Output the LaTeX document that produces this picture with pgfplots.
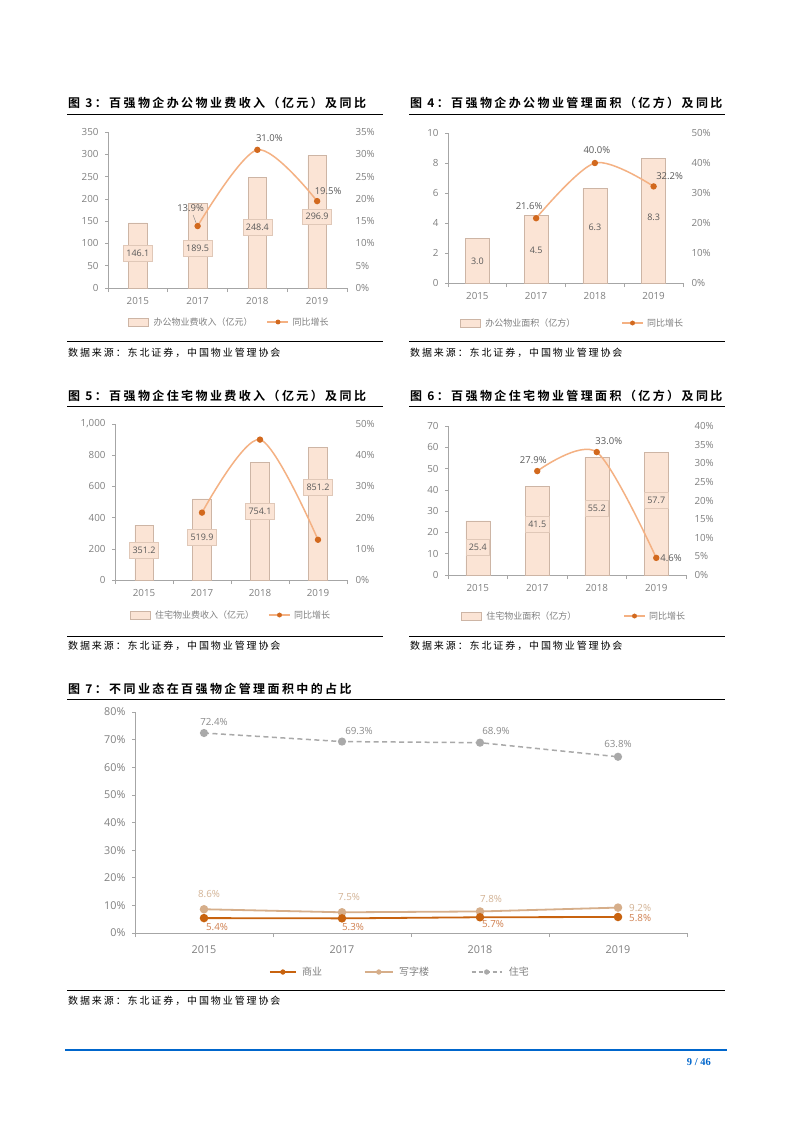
\documentclass[border=0pt]{standalone}
\usepackage{fontspec}
\usepackage{pgfplots}
\pgfplotsset{compat=1.18}
\setmainfont{Open Sans}
\newfontfamily\cjk{Noto Sans CJK SC}
\newfontfamily\titlefont[LetterSpace=20]{Noto Sans CJK SC Bold}
\newfontfamily\srcfont[LetterSpace=19]{Noto Sans CJK SC}
\newfontfamily\pagefont{Liberation Serif}

\definecolor{barfill}{HTML}{FBE4D5}
\definecolor{barline}{HTML}{CDB5A5}
\definecolor{boxline}{HTML}{E0C8B8}
\definecolor{linecol}{HTML}{F4B183}
\definecolor{markcol}{HTML}{D2691E}
\definecolor{tickgray}{HTML}{808080}
\definecolor{lblgray}{HTML}{595959}
\definecolor{axgray}{HTML}{A6A6A6}
\definecolor{shang}{HTML}{C8630F}
\definecolor{xiezi}{HTML}{D6AE8A}
\definecolor{zhuzhai}{HTML}{A9A9A9}
\definecolor{shanglbl}{HTML}{D08050}
\definecolor{xiezilbl}{HTML}{D3B395}
\definecolor{zhulbl}{HTML}{8C8C8C}
\definecolor{pageblue}{HTML}{0066CC}

\pgfplotsset{
  leftax/.style={
    scale only axis, anchor=south west, clip=false,
    xmin=-0.5, xmax=3.5, ymin=0,
    xtick={0,1,2,3}, xticklabels={2015,2017,2018,2019},
    minor xtick={-0.5,0.5,1.5,2.5,3.5},
    axis x line*=bottom, axis y line*=left,
    axis line style={draw=axgray, line width=0.6pt},
    tick align=outside, major tick length=3pt, minor tick length=4pt,
    major x tick style={draw=none},
    minor x tick style={draw=axgray, line width=0.6pt},
    ytick style={draw=axgray, line width=0.6pt},
    tick label style={font=\fontsize{9.8}{11}\selectfont, text=tickgray},
    yticklabel style={xshift=-3pt},
    xticklabel style={yshift=-2.5pt},
    /pgf/number format/assume math mode=true,
  },
  rightax/.style={
    scale only axis, anchor=south west, clip=false,
    xmin=-0.5, xmax=3.5, ymin=0,
    hide x axis, axis y line*=right,
    y axis line style={draw=none}, ytick style={draw=none},
    major tick length=3pt,
    yticklabel={\pgfmathprintnumber{\tick}\%},
    yticklabel style={font=\fontsize{9.8}{11}\selectfont, text=tickgray, xshift=5pt},
    /pgf/number format/assume math mode=true,
    legend columns=2,
    legend style={draw=none, fill=none, font=\cjk\fontsize{9}{10}\selectfont,
      text=tickgray, at={(0.5,0)}, anchor=center},
  },
  barleg/.style={legend image code/.code={
    \draw[fill=barfill, draw=barline, line width=0.5pt] (0pt,-4pt) rectangle (20pt,4pt);
    \path (23pt,0pt);}},
  lineleg/.style={legend image code/.code={
    \draw[linecol, line width=1.5pt] (0pt,0pt) -- (21pt,0pt);
    \fill[markcol] (10.5pt,0pt) circle (2.2pt);
    \path (23pt,0pt);}},
  barlbl/.style={draw=none, nodes near coords, point meta=explicit symbolic,
    every node near coord/.append style={anchor=center, fill=barfill, draw=boxline,
      inner xsep=3pt, inner ysep=4.5pt, font=\fontsize{9}{10}\selectfont, text=lblgray}},
  yoy/.style={smooth, linecol, line width=1.5pt, mark=*, mark size=2.4pt,
    mark options={fill=markcol, draw=markcol}, forget plot},
}
\tikzset{
  pct/.style={font=\fontsize{9.5}{11}\selectfont, text=lblgray, inner sep=0pt},
  lbl7/.style={font=\fontsize{9.8}{11}\selectfont, inner sep=0pt},
}

\begin{document}
\begin{tikzpicture}
\fill[white] (0pt,0pt) rectangle (793pt,-1122pt);

% ---------- titles, rules, sources
\node[anchor=west, inner sep=0pt, font=\titlefont\fontsize{12}{14}\selectfont] at (68pt,-103pt) {图 3：百强物企办公物业费收入（亿元）及同比};
\node[anchor=west, inner sep=0pt, font=\titlefont\fontsize{12}{14}\selectfont] at (410pt,-103pt) {图 4：百强物企办公物业管理面积（亿方）及同比};
\node[anchor=west, inner sep=0pt, font=\titlefont\fontsize{12}{14}\selectfont] at (68pt,-396pt) {图 5：百强物企住宅物业费收入（亿元）及同比};
\node[anchor=west, inner sep=0pt, font=\titlefont\fontsize{12}{14}\selectfont] at (410pt,-396pt) {图 6：百强物企住宅物业管理面积（亿方）及同比};
\node[anchor=west, inner sep=0pt, font=\titlefont\fontsize{12}{14}\selectfont] at (68pt,-689pt) {图 7：不同业态在百强物企管理面积中的占比};

\draw[line width=0.8pt] (67pt,-114pt) -- (383pt,-114pt);
\draw[line width=0.8pt] (409pt,-114pt) -- (725pt,-114pt);
\draw[line width=0.8pt] (67pt,-341pt) -- (383pt,-341pt);
\draw[line width=0.8pt] (409pt,-341pt) -- (725pt,-341pt);
\draw[line width=0.8pt] (67pt,-406pt) -- (383pt,-406pt);
\draw[line width=0.8pt] (409pt,-406pt) -- (725pt,-406pt);
\draw[line width=0.8pt] (67pt,-636pt) -- (383pt,-636pt);
\draw[line width=0.8pt] (409pt,-636pt) -- (725pt,-636pt);
\draw[line width=0.8pt] (67pt,-699pt) -- (725pt,-699pt);
\draw[line width=0.8pt] (67pt,-990pt) -- (725pt,-990pt);

\foreach \sx/\sy in {68/353, 410/353, 68/646, 410/646, 68/1001}
  \node[anchor=west, inner sep=0pt, font=\srcfont\fontsize{10}{12}\selectfont] at (\sx pt,-\sy pt) {数据来源：东北证券，中国物业管理协会};

\draw[pageblue, line width=1.2pt] (65pt,-1050pt) -- (727pt,-1050pt);
\node[anchor=east, inner sep=0pt, font=\pagefont\bfseries\fontsize{10.5}{12}\selectfont, text=pageblue] at (711pt,-1062pt) {9 / 46};

% ---------- chart 3
\begin{axis}[leftax, at={(108pt,-288pt)}, width=239pt, height=156pt,
  ymax=350, ytick={0,50,...,350}]
\addplot[ybar, bar width=18.5pt, fill=barfill, draw=barline, line width=0.5pt]
  coordinates {(0,146.1) (1,189.5) (2,248.4) (3,296.9)};
\addplot[barlbl] coordinates {(0,78)[146.1] (1,90)[189.5] (2,137)[248.4] (3,160)[296.9]};
\end{axis}
\begin{axis}[rightax, at={(108pt,-288pt)}, width=239pt, height=156pt,
  ymax=35, ytick={0,5,...,35},
  legend style={yshift=-34pt, xshift=2pt, /tikz/every even column/.append style={column sep=12pt}}]
\addlegendimage{barleg}
\addlegendentry{办公物业费收入（亿元）}
\addlegendimage{lineleg}
\addlegendentry{同比增长}
\addplot[yoy] coordinates {(1,13.9) (2,31.0) (3,19.5)};
\node[pct, xshift=-7pt, yshift=18pt] at (axis cs:1,13.9) {13.9\%};
\draw[tickgray, line width=0.4pt] (axis cs:1,13.9) ++(-1.5pt,3pt) -- ++(-3pt,8pt);
\node[pct, xshift=12pt, yshift=12pt] at (axis cs:2,31.0) {31.0\%};
\node[pct, xshift=11pt, yshift=10pt] at (axis cs:3,19.5) {19.5\%};
\end{axis}

% ---------- chart 4
\begin{axis}[leftax, at={(448pt,-283pt)}, width=235pt, height=150pt,
  ymax=10, ytick={0,2,...,10}]
\addplot[ybar, bar width=24pt, fill=barfill, draw=barline, line width=0.5pt]
  coordinates {(0,3.0) (1,4.5) (2,6.3) (3,8.3)};
\addplot[barlbl, every node near coord/.append style={draw=none}]
  coordinates {(0,1.47)[3.0] (1,2.2)[4.5] (2,3.73)[6.3] (3,4.4)[8.3]};
\end{axis}
\begin{axis}[rightax, at={(448pt,-283pt)}, width=235pt, height=150pt,
  ymax=50, ytick={0,10,...,50},
  legend style={yshift=-40pt, xshift=7pt, /tikz/every even column/.append style={column sep=44pt}}]
\addlegendimage{barleg}
\addlegendentry{办公物业面积（亿方）}
\addlegendimage{lineleg}
\addlegendentry{同比增长}
\addplot[yoy] coordinates {(1,21.6) (2,40.0) (3,32.2)};
\node[pct, xshift=-7pt, yshift=12pt] at (axis cs:1,21.6) {21.6\%};
\node[pct, xshift=2pt, yshift=13pt] at (axis cs:2,40.0) {40.0\%};
\node[pct, xshift=16pt, yshift=10pt] at (axis cs:3,32.2) {32.2\%};
\end{axis}

% ---------- chart 5
\begin{axis}[leftax, at={(115pt,-580pt)}, width=232pt, height=156pt,
  ymax=1000, ytick={0,200,...,1000}]
\addplot[ybar, bar width=18.5pt, fill=barfill, draw=barline, line width=0.5pt]
  coordinates {(0,351.2) (1,519.9) (2,754.1) (3,851.2)};
\addplot[barlbl] coordinates {(0,192)[351.2] (1,276)[519.9] (2,442)[754.1] (3,596)[851.2]};
\end{axis}
\begin{axis}[rightax, at={(115pt,-580pt)}, width=232pt, height=156pt,
  ymax=50, ytick={0,10,...,50},
  legend style={yshift=-35pt, xshift=0pt, /tikz/every even column/.append style={column sep=12pt}}]
\addlegendimage{barleg}
\addlegendentry{住宅物业费收入（亿元）}
\addlegendimage{lineleg}
\addlegendentry{同比增长}
\addplot[yoy] coordinates {(1,21.6) (2,45.0) (3,12.9)};
\end{axis}

% ---------- chart 6
\begin{axis}[leftax, at={(448pt,-575pt)}, width=238pt, height=149pt,
  ymax=70, ytick={0,10,...,70}]
\addplot[ybar, bar width=24pt, fill=barfill, draw=barline, line width=0.5pt]
  coordinates {(0,25.4) (1,41.5) (2,55.2) (3,57.7)};
\addplot[barlbl] coordinates {(0,13.2)[25.4] (1,24)[41.5] (2,31.5)[55.2] (3,35.2)[57.7]};
\end{axis}
\begin{axis}[rightax, at={(448pt,-575pt)}, width=238pt, height=149pt,
  ymax=40, ytick={0,5,...,40},
  legend style={yshift=-41pt, xshift=7pt, /tikz/every even column/.append style={column sep=45pt}}]
\addlegendimage{barleg}
\addlegendentry{住宅物业面积（亿方）}
\addlegendimage{lineleg}
\addlegendentry{同比增长}
\addplot[yoy] coordinates {(1,27.9) (2,33.0) (3,4.6)};
\node[pct, xshift=-4pt, yshift=11pt] at (axis cs:1,27.9) {27.9\%};
\node[pct, xshift=12pt, yshift=11pt] at (axis cs:2,33.0) {33.0\%};
\node[pct, anchor=west, xshift=4pt] at (axis cs:3,4.6) {4.6\%};
\end{axis}

% ---------- chart 7
\begin{axis}[leftax, at={(135pt,-933pt)}, width=552pt, height=221pt,
  ymax=80, ytick={0,10,...,80},
  yticklabel={\pgfmathprintnumber{\tick}\%},
  tick label style={font=\fontsize{10.8}{12}\selectfont},
  xticklabel style={yshift=-4pt},
  legend columns=3,
  legend style={draw=none, fill=none, font=\cjk\fontsize{10}{12}\selectfont,
    text=tickgray, at={(0.5,0)}, anchor=center, yshift=-39pt, xshift=-11pt,
    /tikz/every even column/.append style={column sep=40pt}}]
\addplot[zhuzhai, line width=1.5pt, dash pattern=on 5pt off 3.5pt, mark=*, mark size=3.3pt,
  mark options={solid}, forget plot]
  coordinates {(0,72.4) (1,69.3) (2,68.9) (3,63.8)};
\addplot[xiezi, line width=1.8pt, mark=*, mark size=3.3pt, forget plot]
  coordinates {(0,8.6) (1,7.5) (2,7.8) (3,9.2)};
\addplot[shang, line width=1.8pt, mark=*, mark size=3.3pt, forget plot]
  coordinates {(0,5.4) (1,5.3) (2,5.7) (3,5.8)};
\addlegendimage{legend image code/.code={
  \draw[shang, line width=1.5pt] (0pt,0pt) -- (26pt,0pt); \fill[shang] (13pt,0pt) circle (2.4pt); \path (30pt,0pt);}}
\addlegendentry{商业}
\addlegendimage{legend image code/.code={
  \draw[xiezi, line width=1.5pt] (0pt,0pt) -- (28pt,0pt); \fill[xiezi] (14pt,0pt) circle (2.4pt); \path (32pt,0pt);}}
\addlegendentry{写字楼}
\addlegendimage{legend image code/.code={
  \draw[zhuzhai, line width=1.3pt, dash pattern=on 4pt off 3pt] (0pt,0pt) -- (30pt,0pt); \fill[zhuzhai] (15pt,0pt) circle (2.4pt); \path (35pt,0pt);}}
\addlegendentry{住宅}
\node[lbl7, text=zhulbl, xshift=10pt, yshift=11pt] at (axis cs:0,72.4) {72.4\%};
\node[lbl7, text=zhulbl, xshift=17pt, yshift=11pt] at (axis cs:1,69.3) {69.3\%};
\node[lbl7, text=zhulbl, xshift=16pt, yshift=12pt] at (axis cs:2,68.9) {68.9\%};
\node[lbl7, text=zhulbl, xshift=0pt, yshift=13pt] at (axis cs:3,63.8) {63.8\%};
\node[lbl7, text=xiezilbl, xshift=5pt, yshift=15pt] at (axis cs:0,8.6) {8.6\%};
\node[lbl7, text=xiezilbl, xshift=7pt, yshift=15pt] at (axis cs:1,7.5) {7.5\%};
\node[lbl7, text=xiezilbl, xshift=11pt, yshift=12.5pt] at (axis cs:2,7.8) {7.8\%};
\node[lbl7, text=xiezilbl, anchor=west, xshift=11pt] at (axis cs:3,9.2) {9.2\%};
\node[lbl7, text=shanglbl, xshift=13pt, yshift=-9pt] at (axis cs:0,5.4) {5.4\%};
\node[lbl7, text=shanglbl, xshift=11pt, yshift=-9pt] at (axis cs:1,5.3) {5.3\%};
\node[lbl7, text=shanglbl, xshift=13pt, yshift=-7pt] at (axis cs:2,5.7) {5.7\%};
\node[lbl7, text=shanglbl, anchor=west, xshift=11pt, yshift=-1pt] at (axis cs:3,5.8) {5.8\%};
\end{axis}
\end{tikzpicture}
\end{document}
